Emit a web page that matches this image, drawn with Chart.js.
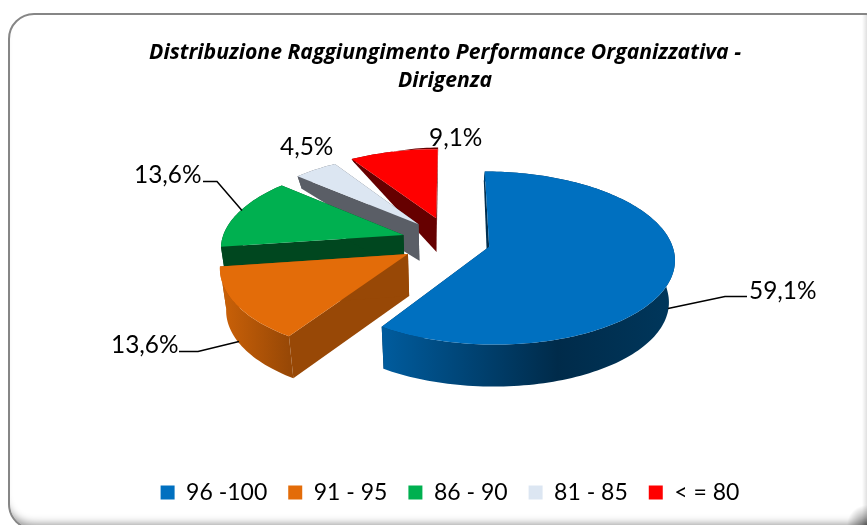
<!DOCTYPE html>
<html><head><meta charset="utf-8">
<style>
html,body{margin:0;padding:0;background:#fff;overflow:hidden;width:867px;height:525px}
#frame{position:absolute;left:8px;top:13px;width:880px;height:513px;border:2px solid #868686;border-radius:26px;box-shadow:inset 0 -11px 9px -7px rgba(0,0,0,.42);background:#fff}
#edge{position:absolute;left:0;top:15px;width:867px;height:510px;background:radial-gradient(circle at 100% 100%,rgba(0,0,0,.5),rgba(0,0,0,0) 20px),linear-gradient(to left,rgba(0,0,0,.12),rgba(0,0,0,0) 5px)}
#wrap{position:absolute;left:0;top:0;width:890px;height:525px}
</style>
<script src="https://cdn.jsdelivr.net/npm/chart.js@4"></script>
</head><body>
<div id="frame"></div><div id="edge"></div>
<div id="wrap"><canvas id="c" width="890" height="525"></canvas></div>
<script>
const categories = ['96 -100','91 - 95','86 - 90','81 - 85','< = 80'];
const shares = [59.1,13.6,13.6,4.5,9.1];
const titleLines = ['Distribuzione Raggiungimento Performance Organizzativa -','Dirigenza'];
const topColors = ['#0070C0','#E36C09','#00B050','#DCE6F2','#FF0000'];
const sideColors = ['#002F50','#984806','#00471F','#5A5E66','#660000'];
const outerStops = [
  [[0,'#005C9E'],[.6,'#002B4A'],[1,'#00375C']],
  [[0,'#CC6208'],[1,'#984806']],
  [[0,'#00471F'],[1,'#00471F']],
  [[0,'#5A5E66'],[1,'#5A5E66']],
  [[0,'#660000'],[1,'#660000']]
];
const explode = [.217,.275,.275,.28,.3];
const view = {dx:6, dy:-36, ys:.46, k:.13, shrink:.027};
const depthKnots = [[-1,8],[-.85,13],[-.2,37],[.1,42],[1.2,42]];
/* label anchor, relative to pie centre: text x (left), text y (middle) */
const labelAt = [[298,50],[-340,104],[-317,-66],[-171,-94],[-22,-103]];
const leaders = [
  [[217,67],[274,55],[296,55]],
  [[-212,100],[-253,110],[-272,110]],
  [[-209,-31],[-234,-60],[-248,-60]],
  [],[]
];
function depth(Y){
  for(let i=1;i<depthKnots.length;i++){
    const a=depthKnots[i-1],b=depthKnots[i];
    if(Y<=b[0]) return a[1]+(b[1]-a[1])*(Y-a[0])/(b[0]-a[0]);
  }
  return 42;
}
const pie3d = {
  id:'pie3d',
  afterLayout(chart){ chart.legend.left+=5; chart.legend.right+=5; },
  beforeDatasetDraw(chart,args){
    const ctx=chart.ctx, arcs=args.meta.data, A=arcs[0].outerRadius;
    const cx=arcs[0].x+view.dx, cy=arcs[0].y+view.dy;
    const B=A*view.ys;
    const pt=(X,Y,low)=>{
      const s=1/(1-view.k*Y);
      let x=cx+A*X*s, y=cy+B*Y*s;
      if(low){ x+=(cx-x)*view.shrink; y+=depth(Y); }
      return [x,y];
    };
    const order=[4,3,2,1,0];
    for(const i of order){
      const a=arcs[i], st=a.startAngle, en=a.endAngle, mid=(st+en)/2, e=explode[i];
      const X0=Math.cos(mid)*e, Y0=Math.sin(mid)*e;
      const rim=[]; const n=Math.max(8,Math.round((en-st)*40));
      for(let j=0;j<=n;j++){const t=st+(en-st)*j/n; rim.push([X0+Math.cos(t),Y0+Math.sin(t)]);}
      const poly=(pts,fill)=>{ctx.beginPath();pts.forEach((p,q)=>q?ctx.lineTo(p[0],p[1]):ctx.moveTo(p[0],p[1]));ctx.closePath();ctx.fillStyle=fill;ctx.fill();};
      const apexT=pt(X0,Y0,false), apexB=pt(X0,Y0,true);
      const f=rim[0], l=rim[n];
      poly([apexT,apexB,pt(f[0],f[1],true),pt(f[0],f[1],false)],sideColors[i]);
      poly([apexT,apexB,pt(l[0],l[1],true),pt(l[0],l[1],false)],sideColors[i]);
      const up=rim.map(p=>pt(p[0],p[1],false)), dn=rim.map(p=>pt(p[0],p[1],true)).reverse();
      const xs=up.map(p=>p[0]); const x0=Math.min(...xs), x1=Math.max(...xs);
      const g=ctx.createLinearGradient(x0,0,x1,0);
      outerStops[i].forEach(s=>g.addColorStop(+s[0],s[1]));
      poly(up.concat(dn),g);
      poly([apexT].concat(up),topColors[i]);
    }
    ctx.strokeStyle='#000';ctx.lineWidth=1.5;
    leaders.forEach(L=>{ if(!L.length) return; ctx.beginPath(); L.forEach((p,q)=>q?ctx.lineTo(cx+p[0],cy+p[1]):ctx.moveTo(cx+p[0],cy+p[1])); ctx.stroke();});
    ctx.fillStyle='#000';ctx.font='24.4px Lato';ctx.textAlign='left';ctx.textBaseline='middle';
    shares.forEach((v,i)=>ctx.fillText(v.toFixed(1).replace('.',',')+'%',cx+labelAt[i][0],cy+labelAt[i][1]));
    return false;
  }
};
new Chart(document.getElementById('c'),{
  type:'pie',
  data:{labels:categories,datasets:[{data:shares,backgroundColor:topColors,borderWidth:0,radius:182}]},
  plugins:[pie3d],
  options:{
    responsive:false,animation:false,
    layout:{padding:{top:26,bottom:11}},
    plugins:{
      tooltip:{enabled:false},
      title:{display:true,text:titleLines,color:'#000',font:{family:'Open Sans',size:21.2,style:'italic',weight:'bold',lineHeight:1.32},padding:{top:13,bottom:0}},
      legend:{position:'bottom',labels:{color:'#000',font:{family:'Lato',size:23},boxWidth:14,boxHeight:14,padding:21}}
    }
  }
});
</script>
</body></html>
